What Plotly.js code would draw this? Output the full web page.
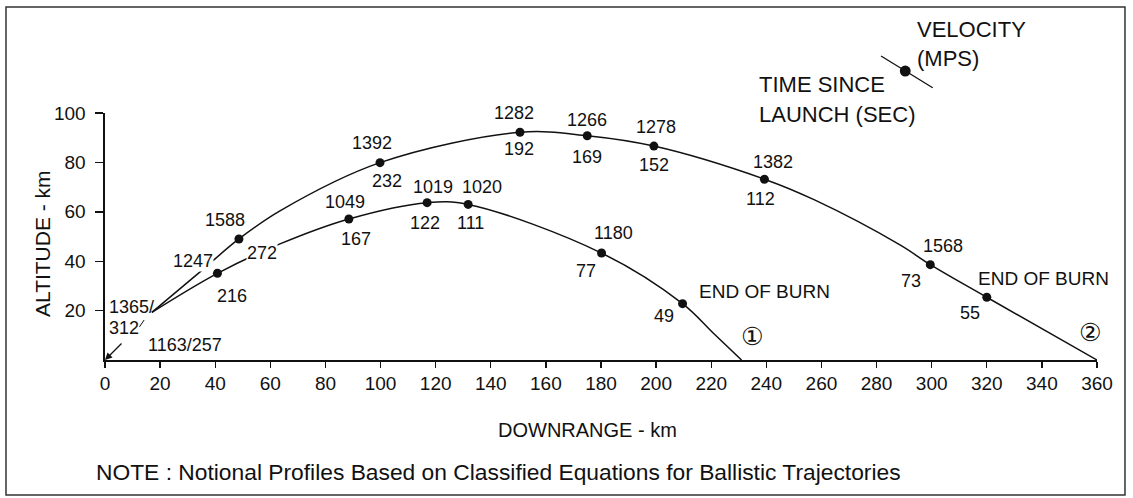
<!DOCTYPE html>
<html><head><meta charset="utf-8">
<script src="https://cdn.plot.ly/plotly-3.0.1.min.js"></script>
<style>html,body{margin:0;padding:0;background:#fff}#chart{width:1133px;height:498px}</style>
</head><body><div id="chart"></div>
<script>
// ---------- DATA ----------
// Trajectory 2 (range 360 km): marked points
const traj2DotX = [48.6, 99.8, 150.6, 175.0, 199.2, 239.3, 299.5, 320.0];
const traj2DotY = [49.0, 79.9, 92.2, 90.8, 86.6, 73.2, 38.6, 25.4];
const traj2Velocity = ['1588', '1392', '1282', '1266', '1278', '1382', '1568', null];
const traj2Time = ['272', '232', '192', '169', '152', '112', '73', '55'];
// Trajectory 2 traced path
const traj2PathX = [17.0, 34.5, 48.6, 63.5, 99.8, 150.6, 175.0, 199.2, 239.3, 257.5, 288.5, 299.5, 320.0, 360];
const traj2PathY = [19.3, 35.7, 49.0, 60.4, 79.9, 92.2, 90.8, 86.6, 73.2, 64.8, 46.6, 38.6, 25.4, 0];

// Trajectory 1 (range 231 km): marked points
const traj1DotX = [40.8, 88.5, 116.9, 131.8, 180.2, 209.6];
const traj1DotY = [35.1, 57.1, 63.7, 63.0, 43.3, 22.8];
const traj1Velocity = ['1247', '1049', '1019', '1020', '1180', null];
const traj1Time = ['216', '167', '122', '111', '77', '49'];
// Trajectory 1 traced path
const traj1PathX = [17.0, 40.8, 63.5, 88.5, 116.9, 131.8, 180.2, 209.6, 220.8, 231];
const traj1PathY = [19.3, 35.1, 47.0, 57.1, 63.7, 63.0, 43.3, 22.8, 10.8, 0];

// Labels at the start of the curves and at the origin
const startVelocity = '1365/';
const startTime = '312';
const originLabel = '1163/257';

const xTicks = [0,20,40,60,80,100,120,140,160,180,200,220,240,260,280,300,320,340,360];
const yTicks = [20,40,60,80,100];

// ---------- LAYOUT / STYLE ----------
// pixel shifts of labels relative to their dots [dx, dy(up)]
const traj2VelShift  = [[-14,19],[-8,20],[-6,19.5],[0,16],[2,19.5],[9,17.5],[13,19],null];
const traj2TimeShift = [[23,-14],[7,-18],[-1,-17],[0,-21],[0,-19],[-4,-20],[-19,-16],[-17,-16]];
const traj1VelShift  = [[-24,12.5],[-4,16.5],[6,16],[14,17.5],[12,20],null];
const traj1TimeShift = [[15,-22.5],[7,-20],[-2,-20],[2.5,-18.5],[-16,-17.5],[-19,-12]];

const ink = '#111';
const fam = 'Liberation Sans, Arial, Helvetica, sans-serif';
const numFont = {family: fam, size: 18, color: ink};

const ann = [];
function lab(x, y, text, sh, extra) {
  ann.push(Object.assign({x: x, y: y, xref: 'x', yref: 'y', text: text, showarrow: false,
    xanchor: 'center', yanchor: 'middle',
    xshift: sh[0], yshift: sh[1], font: numFont, borderpad: 0}, extra || {}));
}
traj2DotX.forEach((x, i) => {
  if (traj2Velocity[i]) lab(x, traj2DotY[i], traj2Velocity[i], traj2VelShift[i]);
  if (traj2Time[i]) lab(x, traj2DotY[i], traj2Time[i], traj2TimeShift[i], i === 0 ? {bgcolor: '#fff'} : {});
});
traj1DotX.forEach((x, i) => {
  if (traj1Velocity[i]) lab(x, traj1DotY[i], traj1Velocity[i], traj1VelShift[i], i === 0 ? {bgcolor: '#fff'} : {});
  if (traj1Time[i]) lab(x, traj1DotY[i], traj1Time[i], traj1TimeShift[i]);
});
// END OF BURN labels (last dot of each trajectory)
const eobFont = {family: fam, size: 19, color: ink};
lab(traj1DotX[5], traj1DotY[5], 'END OF BURN', [15, 12], {xanchor: 'left', font: eobFont});
lab(traj2DotX[7], traj2DotY[7], 'END OF BURN', [-10, 18.5], {xanchor: 'left', font: eobFont});
// circled trajectory numbers at the launch points
const circFont = {family: 'DejaVu Sans, sans-serif', size: 25, color: ink};
lab(traj1PathX[traj1PathX.length-1], 0, '①', [10.5, 23.5], {font: circFont});
lab(traj2PathX[traj2PathX.length-1], 0, '②', [-7.5, 27.5], {font: circFont});
// start labels
lab(traj2PathX[0], traj2PathY[0], startVelocity, [-20, 5.5]);
lab(traj2PathX[0], traj2PathY[0], startTime, [-28, -15.5]);
// origin arrow + label
ann.push({x: 0, y: 0, xref: 'x', yref: 'y', text: '', showarrow: true, ax: 18, ay: -18,
  arrowhead: 2, arrowsize: 1.1, arrowwidth: 1.3, arrowcolor: ink, standoff: 0});
lab(0, 0, originLabel, [80, 15]);

// Axis titles and note (paper coords)
function paperText(x, y, text, size, extra) {
  ann.push(Object.assign({xref: 'paper', yref: 'paper', x: x, y: y, text: text, showarrow: false,
    xanchor: 'center', yanchor: 'middle', font: {family: fam, size: size, color: ink}}, extra || {}));
}
paperText(-0.063, 0.4717, 'ALTITUDE - km', 21, {textangle: -90});
paperText(0.4864, -0.2814, 'DOWNRANGE - km', 20);
paperText(-0.0115, -0.4534, 'NOTE : Notional Profiles Based on Classified Equations for Ballistic Trajectories', 22.8, {xanchor: 'left'});
// Key (top right)
paperText(0.817, 1.340, 'VELOCITY', 22, {xanchor: 'left'});
paperText(0.817, 1.2215, '(MPS)', 22, {xanchor: 'left'});
paperText(0.657, 1.1134, 'TIME SINCE', 22, {xanchor: 'left'});
paperText(0.657, 0.9947, 'LAUNCH (SEC)', 22, {xanchor: 'left'});

const shapes = [
  // outer frame
  {type: 'rect', xref: 'paper', yref: 'paper', x0: -0.0998, x1: 1.0282, y0: -0.5466, y1: 1.4291,
   line: {color: '#333', width: 1.5}},
  // key line and dot
  {type: 'line', xref: 'paper', yref: 'paper', x0: 0.7823, y0: 1.2308, x1: 0.8344, y1: 1.1024,
   line: {color: ink, width: 1.3}},
  {type: 'circle', xref: 'paper', yref: 'paper', x0: 0.8067 - 0.0055, x1: 0.8067 + 0.0055,
   y0: 1.170 - 0.0222, y1: 1.170 + 0.0222, fillcolor: ink, line: {color: ink, width: 0}},
  // small tick after "312"
  {type: 'line', xref: 'x', yref: 'y', x0: 12.5, y0: 13.4, x1: 14.2, y1: 16.2, line: {color: ink, width: 1}}
];

const lineStyle = {color: ink, width: 1.5, shape: 'spline', smoothing: 1};
const data = [
  {x: traj2PathX, y: traj2PathY, mode: 'lines', line: lineStyle, hoverinfo: 'skip', name: 'Trajectory 2'},
  {x: traj1PathX, y: traj1PathY, mode: 'lines', line: lineStyle, hoverinfo: 'skip', name: 'Trajectory 1'},
  {x: traj2DotX, y: traj2DotY, mode: 'markers', marker: {color: ink, size: 9}, name: 'Traj 2 points'},
  {x: traj1DotX, y: traj1DotY, mode: 'markers', marker: {color: ink, size: 9}, name: 'Traj 1 points'}
];

const tickFont = {family: fam, size: 19, color: ink};
const layout = {
  width: 1133, height: 498,
  margin: {l: 105, r: 36, t: 113, b: 138, pad: 0},
  paper_bgcolor: '#fff', plot_bgcolor: '#fff',
  showlegend: false,
  xaxis: {range: [0, 360], tickvals: xTicks, ticktext: xTicks.map(String), showgrid: false, zeroline: false,
    showline: true, linecolor: ink, linewidth: 1.6, ticks: 'outside', ticklen: 6, tickwidth: 1.4, tickcolor: ink,
    tickfont: tickFont, ticklabelstandoff: 0, fixedrange: true},
  yaxis: {range: [0, 100], tickvals: yTicks, ticktext: yTicks.map(String), showgrid: false, zeroline: false,
    showline: true, linecolor: ink, linewidth: 1.6, ticks: 'outside', ticklen: 8, tickwidth: 1.4, tickcolor: ink,
    tickfont: tickFont, ticklabelstandoff: 6, fixedrange: true},
  annotations: ann,
  shapes: shapes
};
Plotly.newPlot('chart', data, layout, {displayModeBar: false, staticPlot: true});
</script>
</body></html>
